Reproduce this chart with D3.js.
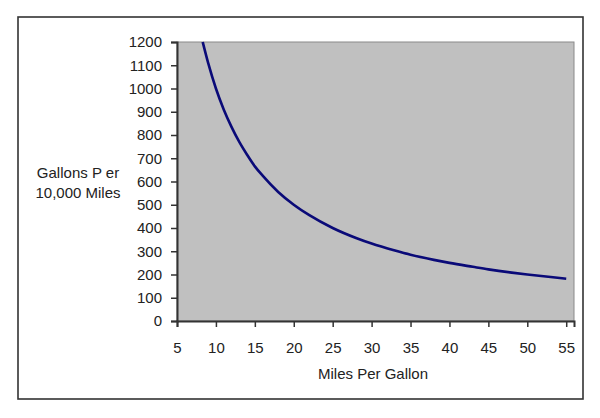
<!DOCTYPE html>
<html>
<head>
<meta charset="utf-8">
<script src="https://cdn.jsdelivr.net/npm/d3@7"></script>
<style>
  body { margin: 0; background: #fff; }
  text { font-family: "Liberation Sans", Arial, sans-serif; fill: #222; }
</style>
</head>
<body>
<div id="chart"></div>
<script>
// values
const mpg = [8.3, 9, 10, 11, 12, 13, 14, 15, 16, 18, 20, 22, 25, 28, 30, 33, 35, 38, 40, 43, 45, 48, 50, 53, 55];
const gallons = [1200, 1110, 1000, 910, 835, 770, 715, 665, 625, 555, 500, 455, 400, 357, 333, 303, 285, 263, 250, 233, 222, 208, 200, 189, 182];
const xTicks = [5, 10, 15, 20, 25, 30, 35, 40, 45, 50, 55];
const yTicks = [0, 100, 200, 300, 400, 500, 600, 700, 800, 900, 1000, 1100, 1200];

const W = 600, H = 418;
const margin = { top: 42, right: 26, bottom: 97, left: 177 },
	width = W - margin.left - margin.right,
	height = H - margin.top - margin.bottom;

const root = d3.select("#chart").append("svg")
	.attr("width", W)
	.attr("height", H);

// outer frame
root.append("rect")
	.attr("x", 18).attr("y", 17)
	.attr("width", 565).attr("height", 382)
	.attr("fill", "none")
	.attr("stroke", "#333")
	.attr("stroke-width", 1.6);

const svg = root.append("g")
	.attr("transform", `translate(${margin.left}, ${margin.top})`);

const x = d3.scaleLinear().domain([5, 56]).range([0, width]);
const y = d3.scaleLinear().domain([0, 1200]).range([height, 0]);

// plot area
svg.append("rect")
	.attr("width", width).attr("height", height)
	.attr("fill", "#c0c0c0")
	.attr("stroke", "#8a8a8a")
	.attr("stroke-width", 1);

// y axis
const yAxis = svg.append("g")
	.call(d3.axisLeft(y).tickValues(yTicks).tickSize(6).tickPadding(9).tickFormat(d3.format("d")));
yAxis.select(".domain").attr("stroke", "#333").attr("stroke-width", 2);
yAxis.selectAll(".tick line").attr("stroke", "#333").attr("stroke-width", 1.5);
yAxis.selectAll("text").attr("font-size", 15).attr("fill", "#222")
	.attr("font-family", "Liberation Sans, Arial, sans-serif");

// x axis
const xAxis = svg.append("g")
	.attr("transform", `translate(0, ${height})`)
	.call(d3.axisBottom(x).tickValues(xTicks).tickSize(6).tickPadding(15));
xAxis.select(".domain").attr("stroke", "#333").attr("stroke-width", 2);
xAxis.selectAll(".tick line").attr("stroke", "#333").attr("stroke-width", 1.5);
xAxis.selectAll("text").attr("font-size", 15).attr("fill", "#222")
	.attr("font-family", "Liberation Sans, Arial, sans-serif");

// curve
const pts = mpg.map((m, i) => [m, gallons[i]]);
svg.append("path")
	.datum(pts)
	.attr("fill", "none")
	.attr("stroke", "#0a0a78")
	.attr("stroke-width", 2.6)
	.attr("d", d3.line().x(d => x(d[0])).y(d => y(d[1])).curve(d3.curveMonotoneX));

// axis titles
root.append("text")
	.attr("x", 78).attr("y", 178)
	.attr("text-anchor", "middle")
	.attr("font-size", 15)
	.text("Gallons P er");
root.append("text")
	.attr("x", 78).attr("y", 198)
	.attr("text-anchor", "middle")
	.attr("font-size", 15)
	.text("10,000 Miles");
root.append("text")
	.attr("x", 373).attr("y", 379)
	.attr("text-anchor", "middle")
	.attr("font-size", 15)
	.text("Miles Per Gallon");
</script>
</body>
</html>
